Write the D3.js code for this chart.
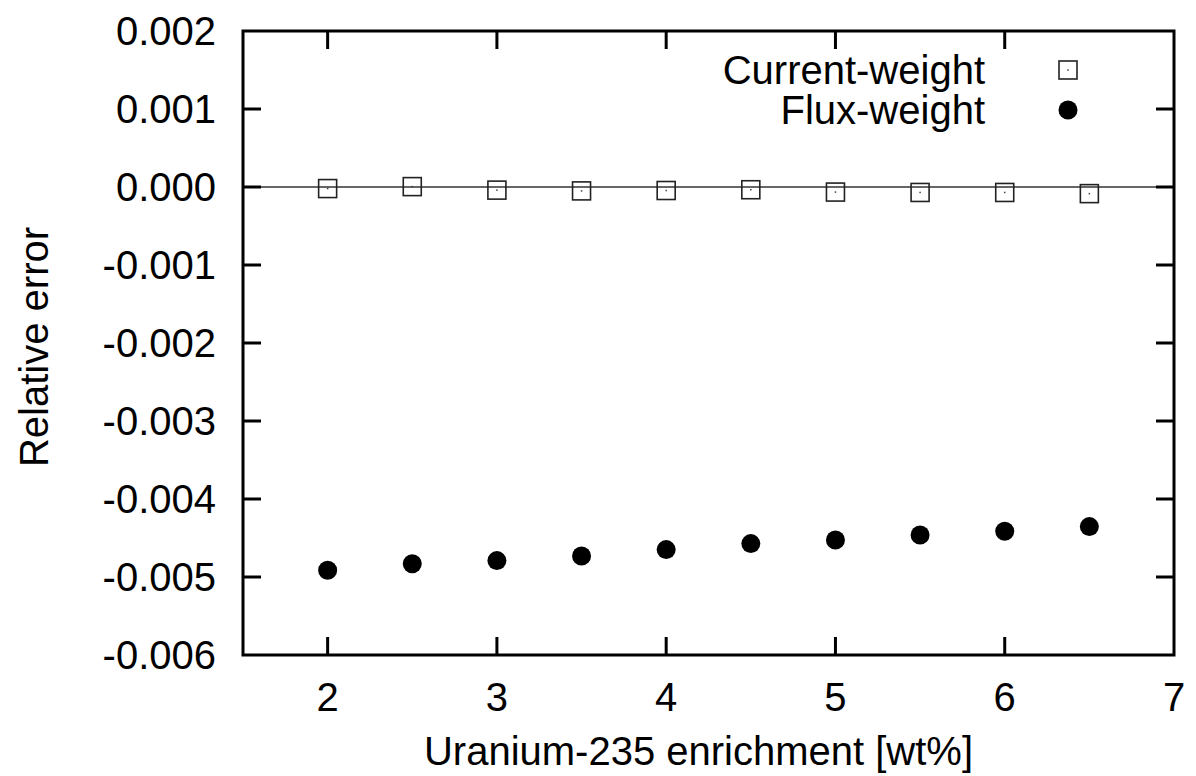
<!DOCTYPE html>
<html>
<head>
<meta charset="utf-8">
<script src="https://cdn.jsdelivr.net/npm/d3@7"></script>
<style>
  html, body { margin: 0; padding: 0; background: #fff; }
  svg { display: block; font-family: "Liberation Sans", Arial, sans-serif; }
</style>
</head>
<body>
<svg id="chart" width="1196" height="776"></svg>
<script>
// Enrichment levels (wt% U-235)
const enrichment = [2, 2.5, 3, 3.5, 4, 4.5, 5, 5.5, 6, 6.5];
// Relative error, current-weighted cross sections
const currentWeight = [-0.00002, 0.000005, -0.00004, -0.00005, -0.000045, -0.000035, -0.000065, -0.00007, -0.00007, -0.000085];
// Relative error, flux-weighted cross sections
const fluxWeight = [-0.004914, -0.004829, -0.00479, -0.004731, -0.004649, -0.004572, -0.004526, -0.004462, -0.004414, -0.004354];

const xTicks = [2, 3, 4, 5, 6, 7];
const yTicks = [0.002, 0.001, 0.000, -0.001, -0.002, -0.003, -0.004, -0.005, -0.006];
const seriesNames = ["Current-weight", "Flux-weight"];

const svg = d3.select("#chart");
const plotLeft = 243, plotRight = 1174, plotTop = 31, plotBottom = 655;

const x = d3.scaleLinear().domain([1.5, 7]).range([plotLeft, plotRight]);
const y = d3.scaleLinear().domain([-0.006, 0.002]).range([plotBottom, plotTop]);

const fontSize = 40;
const tickLen = 18;

// zero reference line
svg.append("line")
  .attr("x1", plotLeft).attr("x2", plotRight)
  .attr("y1", y(0)).attr("y2", y(0))
  .attr("stroke", "#333").attr("stroke-width", 1.6);

// inward ticks on all four sides
const tickG = svg.append("g").attr("stroke", "#000").attr("stroke-width", 3);
xTicks.forEach(t => {
  if (t <= 1.5 || t >= 7) return;
  tickG.append("line").attr("x1", x(t)).attr("x2", x(t)).attr("y1", plotBottom).attr("y2", plotBottom - tickLen);
  tickG.append("line").attr("x1", x(t)).attr("x2", x(t)).attr("y1", plotTop).attr("y2", plotTop + tickLen);
});
yTicks.forEach(t => {
  if (t >= 0.002 || t <= -0.006) return;
  tickG.append("line").attr("x1", plotLeft).attr("x2", plotLeft + tickLen).attr("y1", y(t)).attr("y2", y(t));
  tickG.append("line").attr("x1", plotRight).attr("x2", plotRight - tickLen).attr("y1", y(t)).attr("y2", y(t));
});

// frame
svg.append("rect")
  .attr("x", plotLeft).attr("y", plotTop)
  .attr("width", plotRight - plotLeft).attr("height", plotBottom - plotTop)
  .attr("fill", "none").attr("stroke", "#000").attr("stroke-width", 3);

// tick labels
svg.append("g").selectAll("text").data(xTicks).join("text")
  .attr("x", d => x(d)).attr("y", 711)
  .attr("text-anchor", "middle")
  .attr("font-size", fontSize).attr("fill", "#000")
  .text(d => d3.format("d")(d));

svg.append("g").selectAll("text").data(yTicks).join("text")
  .attr("x", 216).attr("y", d => y(d))
  .attr("dy", "0.36em")
  .attr("text-anchor", "end")
  .attr("font-size", fontSize).attr("fill", "#000")
  .text(d => d3.format(".3f")(d).replace("−", "-"));

// axis titles
svg.append("text")
  .attr("x", (432 + 965) / 2).attr("y", 765)
  .attr("text-anchor", "middle")
  .attr("font-size", fontSize).attr("fill", "#000")
  .text("Uranium-235 enrichment [wt%]");

svg.append("text")
  .attr("transform", `translate(48, 347) rotate(-90)`)
  .attr("text-anchor", "middle")
  .attr("font-size", fontSize).attr("fill", "#000")
  .text("Relative error");

// square marker with a centre dot
function square(g, cx, cy) {
  const s = 18;
  g.append("rect")
    .attr("x", cx - s / 2).attr("y", cy - s / 2)
    .attr("width", s).attr("height", s)
    .attr("fill", "none").attr("stroke", "#222").attr("stroke-width", 1.6);
  g.append("rect")
    .attr("x", cx - 0.75).attr("y", cy - 0.75)
    .attr("width", 1.5).attr("height", 1.5)
    .attr("fill", "#444");
}

const pts = svg.append("g");
enrichment.forEach((e, i) => square(pts, x(e), y(currentWeight[i])));
pts.selectAll("circle").data(enrichment).join("circle")
  .attr("cx", d => x(d))
  .attr("cy", (d, i) => y(fluxWeight[i]))
  .attr("r", 9.5)
  .attr("fill", "#000");

// legend
const legend = svg.append("g");
const legendY = [70, 110];
seriesNames.forEach((name, i) => {
  legend.append("text")
    .attr("x", 985).attr("y", legendY[i])
    .attr("dy", "0.36em")
    .attr("text-anchor", "end")
    .attr("font-size", fontSize).attr("fill", "#000")
    .text(name);
});
square(legend, 1068, legendY[0]);
legend.append("circle").attr("cx", 1068).attr("cy", legendY[1]).attr("r", 9.5).attr("fill", "#000");
</script>
</body>
</html>
